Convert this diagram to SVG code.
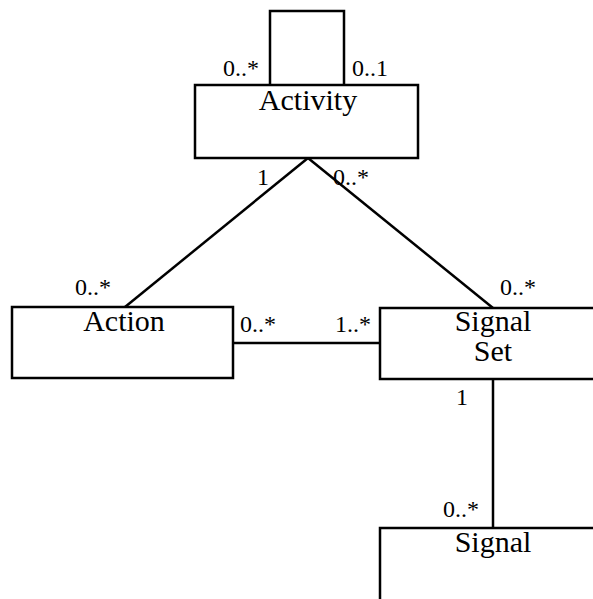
<svg xmlns="http://www.w3.org/2000/svg" width="593" height="599" viewBox="0 0 593 599">
<style>
.box{fill:#fff;stroke:#000;stroke-width:2.5}
.ln{fill:none;stroke:#000;stroke-width:2.5}
text{font-family:'Liberation Serif','Times New Roman',Times,serif;fill:#000}
.name{font-size:30px;text-anchor:middle}
.lbl{font-size:24px}
</style>
<rect width="593" height="599" fill="#fff"/>
<g id="connectors">
<polyline class="ln" points="270,84 270,11 344,11 344,84"/>
<line class="ln" x1="308" y1="158" x2="125" y2="307"/>
<line class="ln" x1="308" y1="158" x2="493" y2="308"/>
<line class="ln" x1="233" y1="343" x2="380" y2="343"/>
<line class="ln" x1="493" y1="379" x2="493" y2="528"/>
</g>
<g id="activity">
<rect class="box" x="195" y="85" width="223" height="73"/>
<text class="name" x="308" y="110">Activity</text>
</g>
<g id="action">
<rect class="box" x="12" y="307" width="221" height="71"/>
<text class="name" x="124" y="331">Action</text>
</g>
<g id="signalset">
<rect class="box" x="380" y="308" width="240" height="71"/>
<text class="name" x="493" y="331">Signal</text>
<text class="name" x="493" y="361">Set</text>
</g>
<g id="signal">
<rect class="box" x="380" y="528" width="240" height="100"/>
<text class="name" x="493" y="552">Signal</text>
</g>
<g id="labels">
<text class="lbl" x="223" y="76">0..*</text>
<text class="lbl" x="352" y="76">0..1</text>
<text class="lbl" x="257" y="185">1</text>
<text class="lbl" x="333" y="185">0..*</text>
<text class="lbl" x="75" y="295">0..*</text>
<text class="lbl" x="240" y="332">0..*</text>
<text class="lbl" x="335" y="332">1..*</text>
<text class="lbl" x="500" y="295">0..*</text>
<text class="lbl" x="456" y="405">1</text>
<text class="lbl" x="443" y="517">0..*</text>
</g>
</svg>
